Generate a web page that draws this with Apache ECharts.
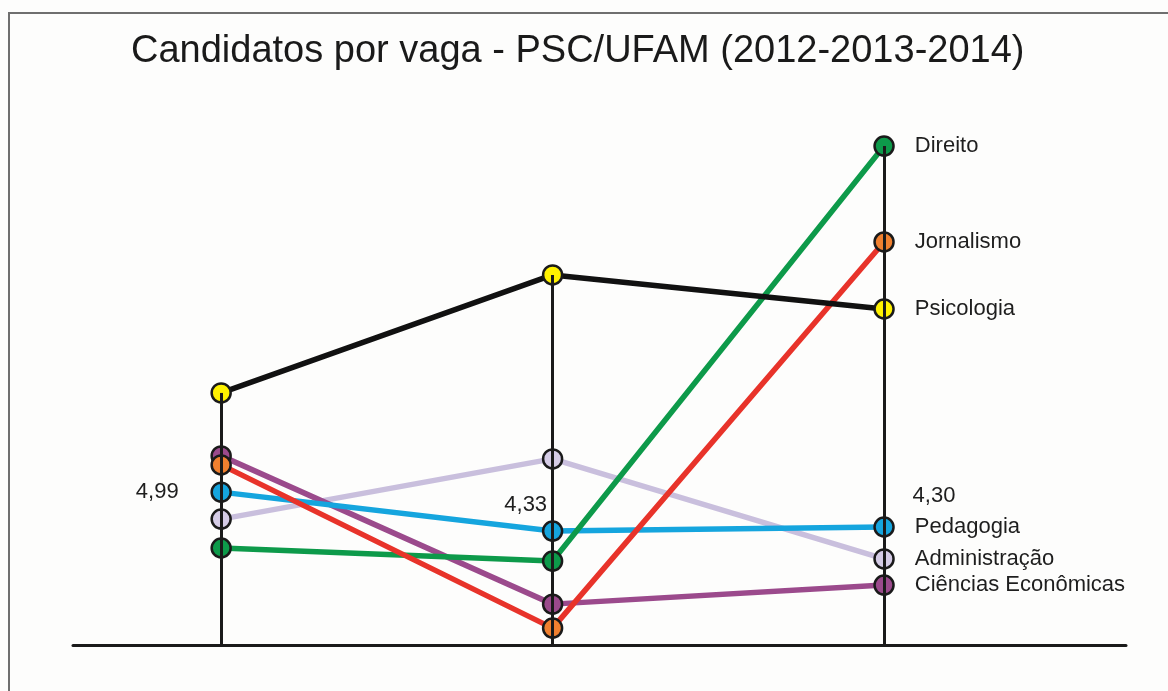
<!DOCTYPE html>
<html>
<head>
<meta charset="utf-8">
<script src="https://cdn.jsdelivr.net/npm/echarts@6/dist/echarts.min.js"></script>
<style>
  html, body { margin: 0; padding: 0; background: #fdfdfc; }
  #main { width: 1168px; height: 691px; }
</style>
</head>
<body>
<div id="main"></div>
<script>
// anos (colunas)
var anos = ['2012', '2013', '2014'];

// valores (escala do desenho, sem eixo visivel)
var direito        = [3.56, 3.08, 18.31];
var jornalismo     = [6.61, 0.62, 14.79];
var psicologia     = [9.25, 13.58, 12.33];
var pedagogia      = [5.61, 4.18, 4.33];
var administracao  = [4.62, 6.83, 3.16];
var economicas     = [6.94, 1.50, 2.20];

// rotulos numericos da Pedagogia
var pedagogiaLabels = ['4,99', '4,33', '4,30'];

var cursos = [
  { name: 'Administração', data: administracao, line: '#c9bfdd', dot: '#d5cce6' },
  { name: 'Ciências Econômicas', data: economicas, line: '#9b4a8c', dot: '#9b4a8c' },
  { name: 'Pedagogia', data: pedagogia, line: '#15a5de', dot: '#15a5de' },
  { name: 'Direito', data: direito, line: '#0d9a4a', dot: '#0d9a4a' },
  { name: 'Jornalismo', data: jornalismo, line: '#e8332a', dot: '#f0802f' },
  { name: 'Psicologia', data: psicologia, line: '#111111', dot: '#fff200' }
];

var colMax = anos.map(function (a, i) {
  return Math.max.apply(null, cursos.map(function (c) { return c.data[i]; }));
});

var fonte = 'Liberation Sans, Arial, sans-serif';
var chart = echarts.init(document.getElementById('main'));

var series = [{
  name: 'eixos',
  type: 'line',
  symbol: 'none',
  silent: true,
  data: [],
  markLine: {
    symbol: 'none',
    silent: true,
    label: { show: false },
    lineStyle: { color: '#1a1a1a', width: 3, type: 'solid' },
    data: anos.map(function (a, i) {
      return [{ coord: [i, 0] }, { coord: [i, colMax[i]] }];
    })
  },
  z: 1
}];

cursos.forEach(function (c) {
  series.push({
    name: c.name,
    type: 'line',
    symbol: 'circle',
    symbolSize: 19,
    lineStyle: { color: c.line, width: 5.5 },
    itemStyle: { color: c.dot, borderColor: '#1a1a1a', borderWidth: 2.5 },
    data: c.data.map(function (v, i) {
      var item = { value: [i, v] };
      if (i === anos.length - 1) {
        item.label = {
          show: true,
          position: 'right',
          distance: 20,
          formatter: c.name,
          fontFamily: fonte,
          fontSize: 22,
          color: '#1e1e1e'
        };
      }
      return item;
    }),
    z: 3
  });
});

// rotulos de valor da Pedagogia
var labelOffsets = [[-42, 0], [-5, -26], [28, -31]];
series.push({
  name: 'valores',
  type: 'scatter',
  symbol: 'circle',
  symbolSize: 1,
  itemStyle: { color: '#15a5de', opacity: 1 },
  silent: true,
  data: pedagogia.map(function (v, i) {
    return {
      value: [i, v],
      label: {
        show: true,
        position: i === 2 ? 'right' : 'left',
        distance: 0,
        offset: labelOffsets[i],
        formatter: pedagogiaLabels[i],
        fontFamily: fonte,
        fontSize: 22,
        color: '#1e1e1e',
        opacity: 1
      }
    };
  }),
  z: 2
});

var option = {
  backgroundColor: '#fdfdfc',
  animation: false,
  title: {
    text: 'Candidatos por vaga - PSC/UFAM (2012-2013-2014)',
    left: 126,
    top: 28,
    textStyle: {
      fontFamily: fonte,
      fontSize: 38,
      fontWeight: 'normal',
      color: '#1a1a1a'
    }
  },
  graphic: [{
    type: 'rect',
    shape: { x: 9, y: 13, width: 1300, height: 800 },
    style: { fill: 'none', stroke: '#6f6f6f', lineWidth: 2 },
    silent: true
  }],
  grid: { left: 73, right: 42, top: 100, bottom: 46 },
  xAxis: {
    type: 'value',
    min: -0.447,
    max: 2.73,
    axisLine: { show: true, onZero: false, lineStyle: { color: '#1a1a1a', width: 3 } },
    axisTick: { show: false },
    axisLabel: { show: false },
    splitLine: { show: false }
  },
  yAxis: {
    type: 'value',
    min: 0,
    max: 20,
    show: false,
    splitLine: { show: false }
  },
  series: series
};

chart.setOption(option);
window.addEventListener('resize', function () {
  chart.resize();
});
</script>
</body>
</html>
